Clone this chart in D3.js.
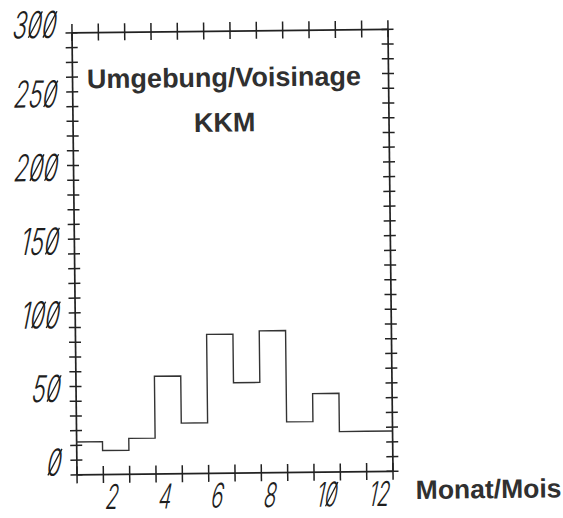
<!DOCTYPE html>
<html>
<head>
<meta charset="utf-8">
<script src="https://cdn.jsdelivr.net/npm/d3@7"></script>
<style>
  html, body { margin: 0; padding: 0; background: #fff; }
  svg { display: block; }
  .num { font-family: Inter, "DejaVu Sans", sans-serif; font-weight: 300; fill: #1e1e1e; }
  .head { font-family: "Liberation Sans", Arial, sans-serif; font-weight: bold; fill: #303030; }
</style>
</head>
<body>
<svg id="chart" width="563" height="518"></svg>
<script>
// Monthly counts, surroundings of KKM
const months = [1, 2, 3, 4, 5, 6, 7, 8, 9, 10, 11, 12];
const counts = [22, 16, 24, 66, 34, 94, 61, 96, 34, 53, 27, 27];

// Axis labelling
const yLabelValues = [0, 50, 100, 150, 200, 250, 300];
const xLabelValues = [2, 4, 6, 8, 10, 12];
const titleLines = ["Umgebung/Voisinage", "KKM"];
const xAxisTitle = "Monat/Mois";

const frame = { left: 74, right: 390, top: 30.6, bottom: 472.6 };

const svg = d3.select("#chart");
// whole plot sheet is set slightly askew
const g = svg.append("g")
  .attr("transform", `rotate(-0.65, ${(frame.left + frame.right) / 2}, ${(frame.top + frame.bottom) / 2})`);

const x = d3.scaleLinear().domain([1, 13]).range([frame.left, frame.right]);
const y = d3.scaleLinear().domain([0, 300]).range([frame.bottom, frame.top]);

const ink = "#222";
const monthTicks = d3.range(1, 14);
const countTicks = d3.range(0, 301, 10);

function styleAxis(sel) {
  sel.select(".domain").attr("stroke", ink).attr("stroke-width", 1.7);
  sel.selectAll(".tick line").attr("stroke", ink).attr("stroke-width", 1.5);
  sel.selectAll(".tick text").remove();
}

// bottom frame with crossing month ticks
g.append("g")
  .attr("transform", `translate(0,${frame.bottom})`)
  .call(d3.axisBottom(x).tickValues(monthTicks).tickSize(9).tickSizeOuter(0).tickFormat(""))
  .call(styleAxis)
  .call(s => s.selectAll(".tick line").attr("y1", -8));

// top frame
g.append("g")
  .attr("transform", `translate(0,${frame.top})`)
  .call(d3.axisTop(x).tickValues(monthTicks).tickSize(8.5).tickSizeOuter(0).tickFormat(""))
  .call(styleAxis)
  .call(s => s.selectAll(".tick line").attr("y1", 8.5));

// left frame with crossing count ticks
g.append("g")
  .attr("transform", `translate(${frame.left},0)`)
  .call(d3.axisLeft(y).tickValues(countTicks).tickSize(6).tickSizeOuter(0).tickFormat(""))
  .call(styleAxis)
  .call(s => s.selectAll(".tick line").attr("x1", 6));

// right frame
g.append("g")
  .attr("transform", `translate(${frame.right},0)`)
  .call(d3.axisRight(y).tickValues(countTicks).tickSize(6).tickSizeOuter(0).tickFormat(""))
  .call(styleAxis)
  .call(s => s.selectAll(".tick line").attr("x1", -6));

// monthly histogram as a step outline
const stepPts = months.map((m, i) => [m, counts[i]]);
stepPts.push([13, counts[counts.length - 1]]);
const step = d3.line()
  .x(d => x(d[0]))
  .y(d => y(d[1]))
  .curve(d3.curveStepAfter);

g.append("path")
  .datum(stepPts)
  .attr("d", step)
  .attr("fill", "none")
  .attr("stroke", "#333")
  .attr("stroke-width", 1.4);

// plotter-style numerals: condensed, slanted, zeros struck through
function plotterNumber(sel, fontSize) {
  sel.append("text")
    .attr("class", "num")
    .attr("font-size", fontSize)
    .text(d => d);
  sel.each(function () {
    const grp = d3.select(this);
    const t = grp.select("text").node();
    const str = t.textContent;
    for (let i = 0; i < str.length; i++) {
      if (str[i] !== "0") continue;
      const e = t.getExtentOfChar(i);
      grp.append("line")
        .attr("x1", e.x + e.width * 0.2)
        .attr("y1", -fontSize * 0.01)
        .attr("x2", e.x + e.width * 0.8)
        .attr("y2", -fontSize * 0.72)
        .attr("stroke", "#1e1e1e")
        .attr("stroke-width", 1.3)
        .attr("vector-effect", "non-scaling-stroke");
    }
  });
}

// count labels, right-aligned beside the left frame (kept inside the page at the top)
const yLabelSize = 37;
g.selectAll("g.ylab")
  .data(yLabelValues)
  .join("g")
  .attr("class", "ylab")
  .attr("text-anchor", "end")
  .attr("transform", d => `translate(57,${Math.max(y(d) + 1, yLabelSize * 0.97)}) skewX(-12) scale(0.64,1)`)
  .call(plotterNumber, yLabelSize);

// month labels, left-aligned on their tick
g.selectAll("g.xlab")
  .data(xLabelValues)
  .join("g")
  .attr("class", "xlab")
  .attr("text-anchor", "start")
  .attr("transform", d => `translate(${x(d) + 1},${frame.bottom + 35}) skewX(-12) scale(0.6,1)`)
  .call(plotterNumber, 34);

// headings
g.selectAll("text.title")
  .data(titleLines)
  .join("text")
  .attr("class", "head title")
  .attr("font-size", 27)
  .attr("text-anchor", "middle")
  .attr("x", 226)
  .attr("y", (d, i) => 86.6 + i * 45)
  .text(d => d);

g.append("text")
  .attr("class", "head")
  .attr("font-size", 26.5)
  .attr("x", 413)
  .attr("y", 501)
  .text(xAxisTitle);
</script>
</body>
</html>
